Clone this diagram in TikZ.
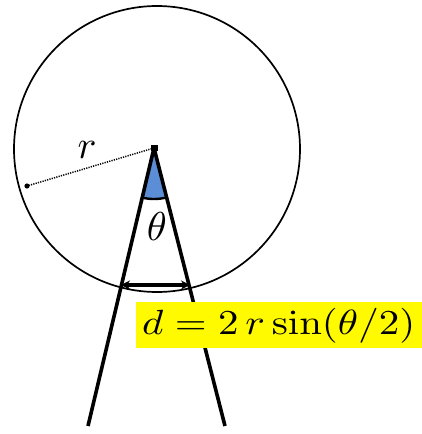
\documentclass[tikz,border=0pt]{standalone}
\usepackage{graphicx}
\usetikzlibrary{arrows.meta,calc}
\definecolor{hl}{RGB}{255,250,0}
\definecolor{sect}{RGB}{91,142,214}
\tikzset{
  cone/.style={line width=3.6pt,black},
  lab/.style={inner sep=0pt},
}
\begin{document}
\begin{tikzpicture}[x=1pt,y=-1pt]
\useasboundingbox (0,0) rectangle (422,434);
\coordinate (C) at (157,149);
\coordinate (A) at (154,148);
\coordinate (L) at (88,426);
\coordinate (R) at (225,426);
\coordinate (P) at (27,186);
\coordinate (dl) at (121,285);
\coordinate (dr) at (190,285);
% sector
\fill[sect] (A) -- ($(A)!51pt!(L)$) arc[start angle=256.6, end angle=284.4, radius=51pt] -- cycle;
\draw[line width=2.4pt] ($(A)!51pt!(L)$) arc[start angle=256.6, end angle=284.4, radius=51pt];
\draw[line width=1.7pt] (C) circle[radius=143pt];
\draw[cone] (A) -- (L);
\draw[cone] (A) -- (R);
\draw[line width=1.5pt,dash pattern=on 1.2pt off 1.2pt] (A) -- (P);
\fill (P) circle[radius=2.6pt];
\fill (A) ++(-3.5,-3.5) rectangle ++(7,6);
\draw[line width=3.6pt,{Stealth[length=9pt,width=9pt]}-{Stealth[length=9pt,width=9pt]}] (dl) -- (dr);
\node[lab] (rl) at (87,150) {\resizebox{!}{17pt}{$r$}};
\node[lab] (th) at (157,226) {\resizebox{!}{28pt}{$\theta$}};
\fill[hl] (136,302) rectangle (422,348);
\node[lab,anchor=west] (eq) at (142,325.5) {\resizebox*{273pt}{35pt}{$d=2\,r\sin(\theta/2)$}};
\end{tikzpicture}
\end{document}
